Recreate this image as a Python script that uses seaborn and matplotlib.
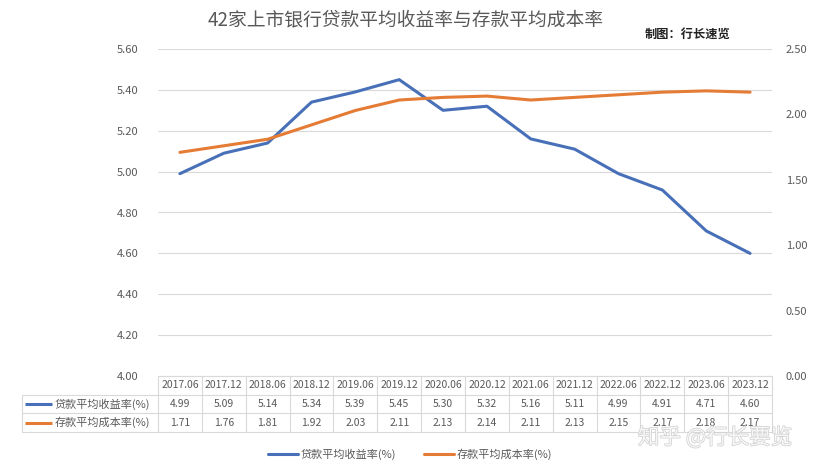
import matplotlib
matplotlib.use("Agg")
import matplotlib.pyplot as plt
import matplotlib.patheffects as pe
import seaborn as sns
import pandas as pd
from matplotlib.lines import Line2D

sns.set_theme(style="white")
plt.rcParams['font.family'] = ['Noto Sans CJK SC', 'DejaVu Sans']
plt.rcParams['axes.unicode_minus'] = False

periods = ["2017.06", "2017.12", "2018.06", "2018.12", "2019.06", "2019.12", "2020.06",
           "2020.12", "2021.06", "2021.12", "2022.06", "2022.12", "2023.06", "2023.12"]
loan_yield = [4.99, 5.09, 5.14, 5.34, 5.39, 5.45, 5.30, 5.32, 5.16, 5.11, 4.99, 4.91, 4.71, 4.60]
deposit_cost = [1.71, 1.76, 1.81, 1.92, 2.03, 2.11, 2.13, 2.14, 2.11, 2.13, 2.15, 2.17, 2.18, 2.17]
loan_name = "贷款平均收益率(%)"
dep_name = "存款平均成本率(%)"
left_ticks = [4.00, 4.20, 4.40, 4.60, 4.80, 5.00, 5.20, 5.40, 5.60]
right_ticks = [0.00, 0.50, 1.00, 1.50, 2.00, 2.50]

BLUE = "#4870B8"
ORANGE = "#E57C35"
GRID = "#D9D9D9"
TXT = "#595959"
LW = 2.2

W, H = 814, 473
fig = plt.figure(figsize=(W / 100, H / 100), dpi=100)
L, R, T, B = 158, 772, 49, 376
ax = fig.add_axes([L / W, 1 - B / H, (R - L) / W, (B - T) / H])

df = pd.DataFrame({"pos": range(len(periods)), "loan": loan_yield, "dep": deposit_cost})
sns.lineplot(data=df, x="pos", y="loan", ax=ax, color=BLUE, linewidth=LW)
ax.set_xlim(-0.5, len(periods) - 0.5)
ax.set_ylim(4.0, 5.6)
ax.set_yticks(left_ticks)
ax.set_yticklabels([f"{v:.2f}" for v in left_ticks], fontsize=8, color=TXT)
ax.set_xticks([])
ax.set_xlabel("")
ax.set_ylabel("")
ax.grid(axis="y", color=GRID, linewidth=0.8)
ax.set_axisbelow(True)
for s in ax.spines.values():
    s.set_visible(False)
ax.tick_params(axis="y", length=0, pad=14)

ax2 = ax.twinx()
sns.lineplot(data=df, x="pos", y="dep", ax=ax2, color=ORANGE, linewidth=LW)
ax2.set_ylim(0, 2.5)
ax2.set_yticks(right_ticks)
ax2.set_yticklabels([f"{v:.2f}" for v in right_ticks], fontsize=8, color=TXT)
ax2.set_ylabel("")
ax2.grid(False)
for s in ax2.spines.values():
    s.set_visible(False)
ax2.tick_params(axis="y", length=0, pad=10)

# Data table
tl = 22
tb = 432
tax = fig.add_axes([tl / W, 1 - tb / H, (R - tl) / W, (tb - B) / H])
unit = (R - L) / len(periods)
x0 = -0.5 - (L - tl) / unit
n = len(periods)
tax.set_xlim(x0, n - 0.5)
tax.set_ylim(0, 3)
tax.axis("off")
lw = 0.8
tax.plot([-0.5, n - 0.5], [3, 3], color=GRID, lw=lw, clip_on=False)
for yv in [2, 1, 0]:
    tax.plot([x0, n - 0.5], [yv, yv], color=GRID, lw=lw, clip_on=False)
for i in range(n + 1):
    tax.plot([i - 0.5, i - 0.5], [0, 3], color=GRID, lw=lw, clip_on=False)
tax.plot([x0, x0], [0, 2], color=GRID, lw=lw, clip_on=False)
for i, p in enumerate(periods):
    tax.text(i, 2.5, p, ha="center", va="center", fontsize=7.5, color=TXT)
    tax.text(i, 1.5, f"{loan_yield[i]:.2f}", ha="center", va="center", fontsize=7.5, color=TXT)
    tax.text(i, 0.5, f"{deposit_cost[i]:.2f}", ha="center", va="center", fontsize=7.5, color=TXT)
seg = 27 / unit
for yv, c, name in [(1.5, BLUE, loan_name), (0.5, ORANGE, dep_name)]:
    tax.plot([x0 + 3 / unit, x0 + 3 / unit + seg], [yv, yv], color=c, lw=LW, clip_on=False,
             solid_capstyle="butt")
    tax.text(x0 + 33 / unit, yv, name, ha="left", va="center", fontsize=8, color=TXT)

# Titles
fig.text(406 / W, 1 - 20 / H, "42家上市银行贷款平均收益率与存款平均成本率", ha="center", va="center",
         fontsize=13.5, color=TXT)
fig.text(645 / W, 1 - 34 / H, "制图：行长速览", ha="left", va="center", fontsize=8.8,
         color="#222222", fontweight="bold")

# Legend
handles = [Line2D([0], [0], color=BLUE, lw=LW), Line2D([0], [0], color=ORANGE, lw=LW)]
fig.legend(handles, [loan_name, dep_name], loc="center", bbox_to_anchor=(410 / W, 1 - 454 / H),
           ncol=2, frameon=False, fontsize=8, handlelength=2.7, columnspacing=2.5,
           labelcolor=TXT, handletextpad=0.2)

# Watermark
fig.text(715 / W, 1 - 438 / H, "知乎 @行长要览", ha="center", va="center", fontsize=15.5,
         color="#F7F7F7",
         path_effects=[pe.withStroke(linewidth=1.0, foreground="#CFCFCF")])

fig.savefig("out.png", dpi=100)
